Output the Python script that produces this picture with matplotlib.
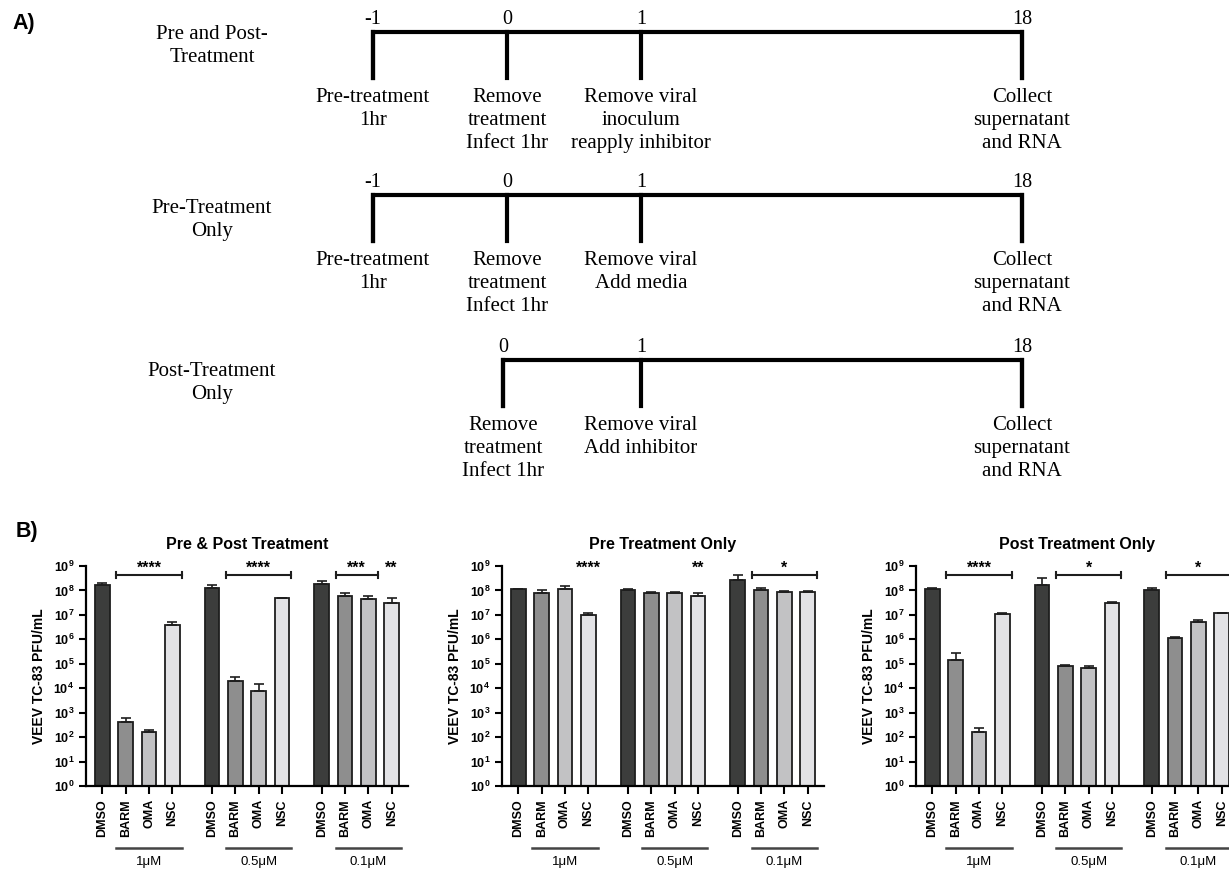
import numpy as np
import matplotlib
matplotlib.use("Agg")
import matplotlib.pyplot as plt
from matplotlib.ticker import NullLocator

plt.rcParams['font.family'] = ['Liberation Sans', 'DejaVu Sans']
plt.rcParams['mathtext.fontset'] = 'custom'
plt.rcParams['mathtext.rm'] = 'Liberation Sans'
plt.rcParams['mathtext.bf'] = 'Liberation Sans:bold'

# ---- panel A: treatment timelines ----
row_labels = ["Pre and Post-\nTreatment", "Pre-Treatment\nOnly", "Post-Treatment\nOnly"]
row_hours = [[-1, 0, 1, 18], [-1, 0, 1, 18], [0, 1, 18]]
row_steps = [
    ["Pre-treatment\n1hr", "Remove\ntreatment\nInfect 1hr",
     "Remove viral\ninoculum\nreapply inhibitor", "Collect\nsupernatant\nand RNA"],
    ["Pre-treatment\n1hr", "Remove\ntreatment\nInfect 1hr",
     "Remove viral\nAdd media", "Collect\nsupernatant\nand RNA"],
    ["Remove\ntreatment\nInfect 1hr", "Remove viral\nAdd inhibitor",
     "Collect\nsupernatant\nand RNA"],
]

# ---- panel B: VEEV TC-83 titers (PFU/mL) ----
drugs = ["DMSO", "BARM", "OMA", "NSC"]
doses = ["1\u03bcM", "0.5\u03bcM", "0.1\u03bcM"]
panel_titles = ["Pre & Post Treatment", "Pre Treatment Only", "Post Treatment Only"]

pre_post_mean = [1.75e8, 400, 160, 3.7e6, 1.3e8, 2.0e4, 7.6e3, 4.7e7, 1.9e8, 5.7e7, 4.3e7, 3.2e7]
pre_post_err = [3.5e7, 200, 40, 1.3e6, 4.5e7, 8e3, 6.9e3, 4e6, 6e7, 1.9e7, 1.5e7, 1.9e7]

pre_only_mean = [1.1e8, 7.6e7, 1.1e8, 9.5e6, 1.05e8, 7.6e7, 8.0e7, 5.7e7, 2.8e8, 1.0e8, 9.0e7, 8.3e7]
pre_only_err = [1e7, 2.4e7, 3.5e7, 2e6, 1.5e7, 9e6, 6e6, 1.9e7, 1.3e8, 3e7, 6e6, 9e6]

post_only_mean = [1.2e8, 1.4e5, 160, 1.05e7, 1.75e8, 8.0e4, 6.5e4, 3.0e7, 1.0e8, 1.1e6, 5.3e6, 1.15e7]
post_only_err = [1e7, 1.3e5, 75, 1e6, 1.35e8, 1e4, 1.5e4, 3e6, 3e7, 2e5, 9e5, 5e5]

# significance: (first bar, last bar or None, stars)
pre_post_sig = [(1, 3, "****"), (5, 7, "****"), (9, 10, "***"), (11, None, "**")]
pre_only_sig = [(3, None, "****"), (7, None, "**"), (9, 11, "*")]
post_only_sig = [(1, 3, "****"), (5, 7, "*"), (9, 11, "*")]

bar_colors = ['#3c3d3c', '#8e8e8e', '#c2c2c4', '#e2e2e5']

W, H = 1229, 871
fig = plt.figure(figsize=(W / 100, H / 100), dpi=100)

# schematic drawn in pixel-like layout coordinates
ax_a = fig.add_axes([0, 0, 1, 1])
ax_a.set_xlim(0, W)
ax_a.set_ylim(H, 0)
ax_a.axis('off')

serif = ['Liberation Serif', 'DejaVu Serif']
hour_x = {-1: 373, 0: 507, 1: 641, 18: 1022}
line_y = [32, 195, 360]
label_off = [14, 25, 23]
tick_len = 46

for i, (label, hours, steps) in enumerate(zip(row_labels, row_hours, row_steps)):
    y = line_y[i]
    xs = [hour_x[h] for h in hours]
    if i == 2:
        xs[0] -= 4
    ax_a.plot([xs[0], xs[0], xs[-1], xs[-1]], [y + tick_len, y, y, y + tick_len],
              color='black', lw=3, solid_joinstyle='miter')
    for h, x, step in zip(hours, xs, steps):
        ax_a.plot([x, x], [y, y + tick_len], color='black', lw=3)
        ax_a.text(x, y - 8, str(h), ha='center', va='baseline', fontsize=14.5, family=serif)
        ax_a.text(x, y + 56, step, ha='center', va='top', fontsize=15,
                  linespacing=1.28, family=serif)
    ax_a.text(212, y + label_off[i], label, ha='center', va='center', fontsize=15,
              linespacing=1.28, family=serif)

fig.text(12 / W, 1 - 23 / H, "A)", fontsize=15.5, fontweight='bold', va='center', ha='left')
fig.text(16 / W, 1 - 532 / H, "B)", fontsize=15.5, fontweight='bold', va='center', ha='left')

G = 4.7
x = np.array([g * G + k for g in range(3) for k in range(4)])

panels = [
    (panel_titles[0], pre_post_mean, pre_post_err, pre_post_sig),
    (panel_titles[1], pre_only_mean, pre_only_err, pre_only_sig),
    (panel_titles[2], post_only_mean, post_only_err, post_only_sig),
]
ax_lefts = [86, 502, 916]

for left, (title, mean, err, sig) in zip(ax_lefts, panels):
    ax = fig.add_axes([left / W, 85 / H, 322 / W, 220 / H])
    ax.bar(x, mean, width=0.62, color=bar_colors * 3, edgecolor='#1e1e1e',
           linewidth=1.3, zorder=2)
    ax.errorbar(x, mean, yerr=[np.zeros(len(x)), err], fmt='none', ecolor='#1e1e1e',
                elinewidth=1.2, capsize=3.5, capthick=1.2, zorder=3)
    ax.set_yscale('log')
    ax.set_ylim(1, 1e9)
    ax.set_xlim(-0.7, 2 * G + 3 + 0.7)
    ax.set_yticks([10.0 ** k for k in range(10)])
    ax.set_yticklabels([rf'$\mathbf{{10^{{{k}}}}}$' for k in range(10)], fontsize=9)
    ax.yaxis.set_minor_locator(NullLocator())
    ax.set_xticks(x)
    ax.set_xticklabels(drugs * 3, rotation=90, fontweight='bold', fontsize=9)
    for s in ['top', 'right']:
        ax.spines[s].set_visible(False)
    for s in ['left', 'bottom']:
        ax.spines[s].set_linewidth(1.6)
    ax.tick_params(width=1.5, length=5)
    ax.tick_params(axis='x', length=6)
    ax.set_ylabel('VEEV TC-83 PFU/mL', fontweight='bold', fontsize=10, labelpad=5)
    ax.set_title(title, fontweight='bold', fontsize=11.5, pad=12)

    yb = 4.3e8
    for a, b, stars in sig:
        if b is None:
            xm = x[a]
        else:
            x0, x1 = x[a] - 0.4, x[b] + 0.4
            ax.plot([x0, x1], [yb, yb], color='#1e1e1e', lw=1.5, clip_on=False)
            ax.plot([x0, x0], [yb / 1.35, yb * 1.35], color='#1e1e1e', lw=1.5, clip_on=False)
            ax.plot([x1, x1], [yb / 1.35, yb * 1.35], color='#1e1e1e', lw=1.5, clip_on=False)
            xm = (x0 + x1) / 2
        ax.text(xm, 5.5e8, stars, ha='center', va='baseline', fontsize=11.5,
                fontweight='bold', clip_on=False)

    trans = ax.get_xaxis_transform()
    for g in range(3):
        x0, x1 = x[4 * g + 1] - 0.4, x[4 * g + 3] + 0.4
        ax.plot([x0, x1], [-0.282, -0.282], transform=trans, clip_on=False,
                color='#444444', lw=1.8)
        ax.text((x0 + x1) / 2, -0.345, doses[g], transform=trans, ha='center',
                va='center', fontsize=9.5)

fig.savefig('out.png', dpi=100)
